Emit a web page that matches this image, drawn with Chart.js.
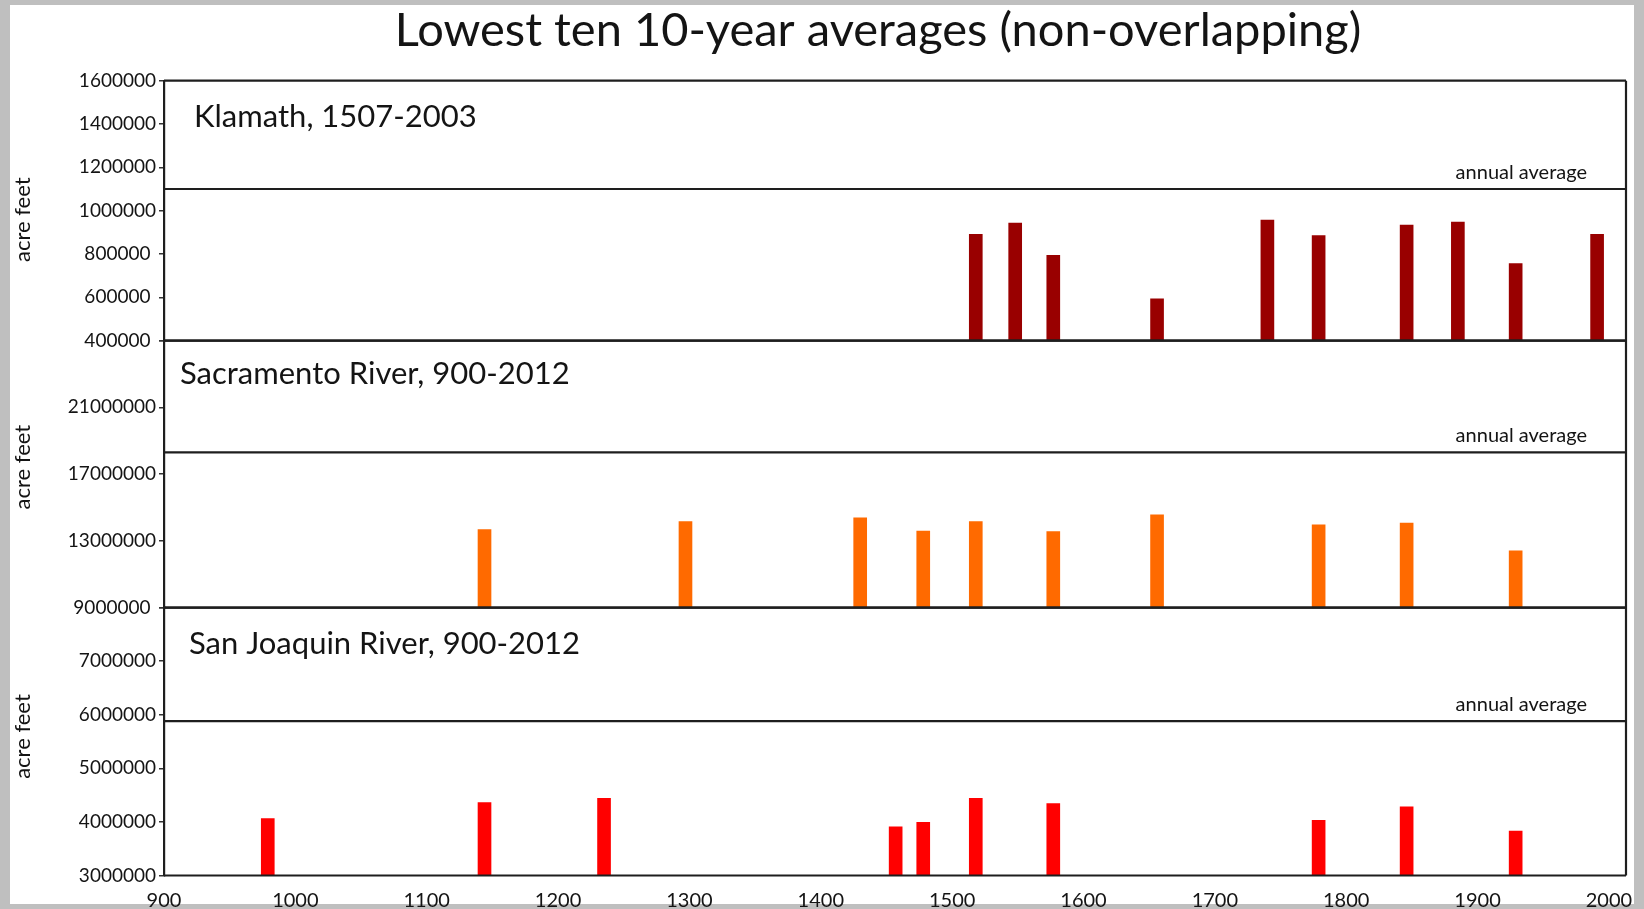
<!DOCTYPE html>
<html>
<head>
<meta charset="utf-8">
<title>Lowest ten 10-year averages</title>
<script src="https://cdn.jsdelivr.net/npm/chart.js@4.4.1/dist/chart.umd.min.js"></script>
<style>
  html, body { margin: 0; padding: 0; background: #bfbfbf; }
  canvas { display: block; }
</style>
</head>
<body>
<canvas id="chart" width="1644" height="909"></canvas>
<script>
// ---- data -------------------------------------------------------------
const chartTitle = 'Lowest ten 10-year averages (non-overlapping)';
const xTickYears = [900, 1000, 1100, 1200, 1300, 1400, 1500, 1600, 1700, 1800, 1900, 2000];
const yearMin = 900;
const yearMax = 2013;

const klamathName = 'Klamath, 1507-2003';
const klamathYears = [1518, 1548, 1577, 1656, 1740, 1779, 1846, 1885, 1929, 1991];
const klamathValues = [891000, 943000, 794000, 593000, 956000, 885000, 933000, 947000, 756000, 891000];
const klamathAverage = 1100000;
const klamathTicks = [400000, 600000, 800000, 1000000, 1200000, 1400000, 1600000];

const sacramentoName = 'Sacramento River, 900-2012';
const sacramentoYears = [1144, 1297, 1430, 1478, 1518, 1577, 1656, 1779, 1846, 1929];
const sacramentoValues = [13680000, 14160000, 14380000, 13580000, 14160000, 13560000, 14560000, 13960000, 14060000, 12400000];
const sacramentoAverage = 18300000;
const sacramentoTicks = [9000000, 13000000, 17000000, 21000000, 25000000];

const sanJoaquinName = 'San Joaquin River, 900-2012';
const sanJoaquinYears = [979, 1144, 1235, 1457, 1478, 1518, 1577, 1779, 1846, 1929];
const sanJoaquinValues = [4060000, 4360000, 4440000, 3910000, 3990000, 4440000, 4340000, 4030000, 4280000, 3830000];
const sanJoaquinAverage = 5880000;
const sanJoaquinTicks = [3000000, 4000000, 5000000, 6000000, 7000000, 8000000];

const unitLabel = 'acre feet';
const averageLabel = 'annual average';

// ---- styling ----------------------------------------------------------
const FONT = 'Lato, "Open Sans", "DejaVu Sans", sans-serif';
const INK = '#141414';
const FRAME = '#1e1e1e';

// per-panel decoration (axis id, caption, average line, text offsets)
const panels = [
  { axis: 'yK', name: klamathName,    avg: klamathAverage,    nameDx: 30, nameDy: 36, unitDy: 9 },
  { axis: 'yC', name: sacramentoName, avg: sacramentoAverage, nameDx: 16, nameDy: 33, unitDy: -7 },
  { axis: 'yS', name: sanJoaquinName, avg: sanJoaquinAverage, nameDx: 25, nameDy: 36, unitDy: -5 }
];

const toPoints = (xs, ys) => xs.map((x, i) => ({ x: x, y: ys[i] }));
const avgLine = v => [{ x: yearMin, y: v }, { x: yearMax, y: v }];

function panelAxis(min, max, ticks, weight, stackWeight, hideTop) {
  return {
    type: 'linear',
    position: 'left',
    stack: 'rivers',
    stackWeight: stackWeight,
    weight: weight,
    min: min,
    max: max,
    afterBuildTicks: s => { s.ticks = ticks.map(v => ({ value: v })); },
    afterFit: s => { s.width = 164; },
    ticks: {
      font: { family: FONT, size: 19 },
      color: INK,
      padding: 3,
      crossAlign: 'center',
      autoSkip: false,
      callback: v => (hideTop && v === max) ? '' : String(v)
    },
    grid: { display: true, drawOnChartArea: false, drawTicks: true, tickLength: 5, color: '#333', lineWidth: 1.5 },
    border: { display: true, color: FRAME, width: 2.2 }
  };
}

// page frame, panel boxes, captions and title
const decorations = {
  id: 'decorations',
  beforeDraw(chart) {
    const { ctx, width, height } = chart;
    ctx.save();
    ctx.fillStyle = '#bfbfbf';
    ctx.fillRect(0, 0, width, height);
    ctx.fillStyle = '#ffffff';
    ctx.fillRect(10, 5, 1624, 899);
    ctx.restore();
  },
  afterDatasetsDraw(chart) {
    const { ctx, chartArea } = chart;
    ctx.save();
    ctx.strokeStyle = FRAME;
    ctx.lineWidth = 2.2;
    panels.forEach(p => {
      const s = chart.scales[p.axis];
      [s.top, s.bottom].forEach(y => {
        ctx.beginPath();
        ctx.moveTo(chartArea.left, y);
        ctx.lineTo(chartArea.right, y);
        ctx.stroke();
      });
    });
    ctx.beginPath();
    ctx.moveTo(chartArea.right, chartArea.top);
    ctx.lineTo(chartArea.right, chartArea.bottom);
    ctx.stroke();
    ctx.restore();
  },
  afterDraw(chart) {
    const { ctx, chartArea } = chart;
    ctx.save();
    ctx.fillStyle = INK;

    ctx.font = '47px ' + FONT;
    ctx.textAlign = 'center';
    ctx.textBaseline = 'middle';
    ctx.fillText(chartTitle, 878, 31);

    panels.forEach(p => {
      const s = chart.scales[p.axis];
      ctx.font = '31px ' + FONT;
      ctx.textAlign = 'left';
      ctx.textBaseline = 'middle';
      ctx.fillText(p.name, chartArea.left + p.nameDx, s.top + p.nameDy);

      ctx.font = '20px ' + FONT;
      ctx.textAlign = 'right';
      ctx.textBaseline = 'alphabetic';
      ctx.fillText(averageLabel, chartArea.right - 39, s.getPixelForValue(p.avg) - 10);

      ctx.save();
      ctx.translate(23, (s.top + s.bottom) / 2 + p.unitDy);
      ctx.rotate(-Math.PI / 2);
      ctx.textAlign = 'center';
      ctx.textBaseline = 'middle';
      ctx.font = '22px ' + FONT;
      ctx.fillText(unitLabel, 0, 0);
      ctx.restore();
    });
    ctx.restore();
  }
};

const barStyle = { type: 'bar', barThickness: 13, borderWidth: 0, grouped: false };
const lineStyle = { type: 'line', borderColor: FRAME, borderWidth: 2.2, pointRadius: 0, fill: false };

new Chart(document.getElementById('chart'), {
  type: 'bar',
  data: {
    datasets: [
      Object.assign({ label: klamathName, data: toPoints(klamathYears, klamathValues), yAxisID: 'yK', backgroundColor: '#990000' }, barStyle),
      Object.assign({ label: sacramentoName, data: toPoints(sacramentoYears, sacramentoValues), yAxisID: 'yC', backgroundColor: '#ff6a00' }, barStyle),
      Object.assign({ label: sanJoaquinName, data: toPoints(sanJoaquinYears, sanJoaquinValues), yAxisID: 'yS', backgroundColor: '#ff0000' }, barStyle),
      Object.assign({ label: 'Klamath average', data: avgLine(klamathAverage), yAxisID: 'yK' }, lineStyle),
      Object.assign({ label: 'Sacramento average', data: avgLine(sacramentoAverage), yAxisID: 'yC' }, lineStyle),
      Object.assign({ label: 'San Joaquin average', data: avgLine(sanJoaquinAverage), yAxisID: 'yS' }, lineStyle)
    ]
  },
  options: {
    responsive: false,
    animation: false,
    devicePixelRatio: 1,
    layout: { padding: { top: 80.7, right: 18, bottom: 0, left: 0 } },
    plugins: { legend: { display: false }, tooltip: { enabled: false }, title: { display: false } },
    scales: {
      x: {
        type: 'linear',
        min: yearMin,
        max: yearMax,
        offset: false,
        afterBuildTicks: s => { s.ticks = xTickYears.map(v => ({ value: v })); },
        afterFit: s => { s.height = 33.5; },
        ticks: { font: { family: FONT, size: 20 }, color: INK, padding: 5, maxRotation: 0, autoSkip: false, callback: v => String(v) },
        grid: { display: false },
        border: { display: false }
      },
      yK: panelAxis(400000, 1600000, klamathTicks, 3, 260, false),
      yC: panelAxis(9000000, 25000000, sacramentoTicks, 2, 267, true),
      yS: panelAxis(3000000, 8000000, sanJoaquinTicks, 1, 268, true)
    }
  },
  plugins: [decorations]
});
</script>
</body>
</html>
